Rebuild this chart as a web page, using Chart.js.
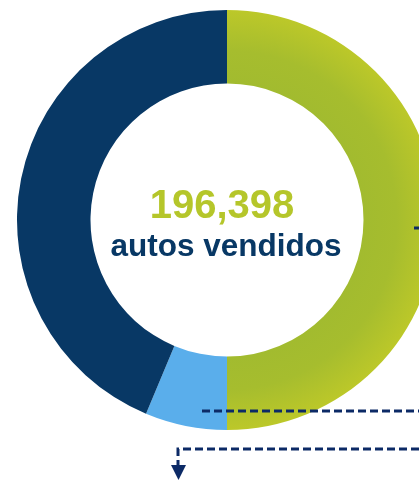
<!DOCTYPE html>
<html>
<head>
<meta charset="utf-8">
<script src="https://cdn.jsdelivr.net/npm/chart.js@4/dist/chart.umd.min.js"></script>
<style>
  html, body { margin: 0; padding: 0; background: #fff; overflow: hidden; }
  #wrap { position: absolute; left: 0; top: 0; width: 454px; height: 481px; }
</style>
</head>
<body>
<div id="wrap"><canvas id="donutChart"></canvas></div>
<script>
// Chart data (share of sales)
const segmentLabels = ["Segmento A", "Segmento B", "Segmento C"];
const segmentValues = [50, 6.3, 43.7];
const totalLabel = "196,398";
const subLabel = "autos vendidos";

const navy = "#083865";
const lightBlue = "#5aaeeb";
const lineNavy = "#0c2a66";
const cutoutRatio = 0.65;
const segmentColors = ["#b5c62a", lightBlue, navy];

// Green segment gets a soft gradient, darker near the inner edge
function segmentFill(context) {
    const area = context.chart.chartArea;
    if (context.dataIndex !== 0 || !area) return segmentColors[context.dataIndex];
    const cx = (area.left + area.right) / 2;
    const cy = (area.top + area.bottom) / 2;
    const r = Math.min(area.right - area.left, area.bottom - area.top) / 2;
    const g = context.chart.ctx.createRadialGradient(cx, cy, r * cutoutRatio, cx, cy, r);
    g.addColorStop(0, "#a2bb2f");
    g.addColorStop(0.45, "#a6bd2e");
    g.addColorStop(1, "#bcc829");
    return g;
}

// Text in the middle plus the leader lines
const overlayPlugin = {
    id: 'overlay',
    afterDraw(chart) {
        const ctx = chart.ctx;
        const arc = chart.getDatasetMeta(0).data[0];
        const cx = arc.x, cy = arc.y;
        ctx.save();
        ctx.textAlign = 'center';
        ctx.textBaseline = 'alphabetic';
        ctx.fillStyle = "#b5c62a";
        ctx.font = "bold 40px 'Liberation Sans', Arial, sans-serif";
        ctx.fillText(totalLabel, cx - 5, cy - 2);
        ctx.fillStyle = navy;
        ctx.font = "bold 31.5px 'Liberation Sans', Arial, sans-serif";
        ctx.fillText(subLabel, cx - 1, cy + 36);

        // leader lines
        ctx.strokeStyle = lineNavy;
        ctx.lineWidth = 3;
        ctx.setLineDash([8, 4]);
        ctx.beginPath();
        ctx.moveTo(202, 411);
        ctx.lineTo(419, 411);
        ctx.stroke();
        ctx.beginPath();
        ctx.moveTo(419, 449);
        ctx.lineTo(178, 449);
        ctx.lineTo(178, 466);
        ctx.stroke();
        ctx.setLineDash([]);
        ctx.fillStyle = lineNavy;
        ctx.beginPath();
        ctx.moveTo(171, 465);
        ctx.lineTo(186, 465);
        ctx.lineTo(178.5, 480);
        ctx.closePath();
        ctx.fill();
        ctx.beginPath();
        ctx.moveTo(414, 228);
        ctx.lineTo(420, 228);
        ctx.stroke();
        ctx.restore();
    }
};

new Chart(document.getElementById('donutChart'), {
    type: 'doughnut',
    data: {
        labels: segmentLabels,
        datasets: [{
            data: segmentValues,
            backgroundColor: segmentFill,
            borderWidth: 0,
            hoverOffset: 0
        }]
    },
    options: {
        responsive: true,
        maintainAspectRatio: false,
        animation: false,
        cutout: (cutoutRatio * 100) + '%',
        layout: { padding: { left: 17, right: 17, top: 10, bottom: 51 } },
        plugins: {
            legend: { display: false },
            tooltip: { enabled: false }
        },
        events: []
    },
    plugins: [overlayPlugin]
});
</script>
</body>
</html>
